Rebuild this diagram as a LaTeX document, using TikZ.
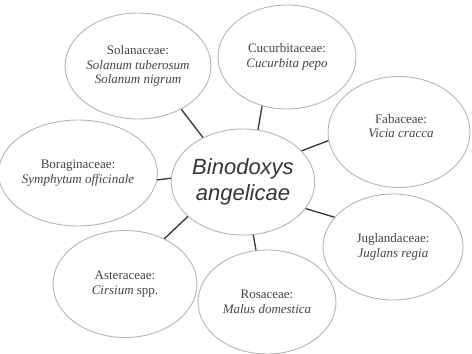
\documentclass[tikz,border=0pt]{standalone}
\usepackage{fontspec}
\setmainfont{Liberation Serif}
\newfontfamily\centerfont{Liberation Sans}
\usetikzlibrary{shapes.geometric}
\definecolor{rimgray}{HTML}{B4B4B4}
\definecolor{txtgray}{HTML}{444444}
\definecolor{linkgray}{HTML}{333333}
\begin{document}
\begin{tikzpicture}[x=1pt,y=-1pt,
  leaf/.style={ellipse, draw=rimgray, line width=0.9pt, fill=white, inner sep=0pt,
    text=txtgray, align=center, font=\fontsize{13}{14.5}\selectfont},
  txt/.style={text=txtgray, align=center, inner sep=0pt, font=\fontsize{13}{14.5}\selectfont},
  hub/.style={ellipse, draw=rimgray, line width=0.9pt, fill=white, inner sep=0pt,
    text=txtgray!80!black, align=center, font=\centerfont\itshape\fontsize{22}{26}\selectfont},
  link/.style={draw=linkgray, line width=1.3pt}]
\useasboundingbox (0,0) rectangle (472,354);
\node[hub, minimum width=137pt, minimum height=106pt] (c) at (243,182) {Binodoxys\\angelicae};
\node[leaf, minimum width=137pt, minimum height=106pt] (sol) at (138,66) {Solanaceae:\\\textit{Solanum tuberosum}\\\textit{Solanum nigrum}};
\node[leaf, minimum width=138pt, minimum height=104pt] (cuc) at (287,57) {Cucurbitaceae:\\\textit{Cucurbita pepo}};
\node[leaf, minimum width=142pt, minimum height=111pt] (fab) at (399,132) {};
\node[txt] (fabt) at (401,126) {Fabaceae:\\\textit{Vicia cracca}};
\node[leaf, minimum width=137pt, minimum height=106pt] (bor) at (78,173) {Boraginaceae:\\\textit{Symphytum officinale}};
\node[leaf, minimum width=144pt, minimum height=107pt] (ast) at (125,284) {Asteraceae:\\\textit{Cirsium} spp.};
\node[leaf, minimum width=138pt, minimum height=104pt] (ros) at (267,302) {Rosaceae:\\\textit{Malus domestica}};
\node[leaf, minimum width=140pt, minimum height=106pt] (jug) at (393,247) {Juglandaceae:\\\textit{Juglans regia}};
\draw[link] (sol.-45) -- (c.132);
\draw[link] (cuc.-117) -- (c.74);
\draw[link] (fab.-173) -- (c.28);
\draw[link] (bor.-5) -- (c.177);
\draw[link] (ast.49) -- (c.-148);
\draw[link] (ros.102) -- (c.-79);
\draw[link] (jug.153) -- (c.-23);
\end{tikzpicture}
\end{document}
